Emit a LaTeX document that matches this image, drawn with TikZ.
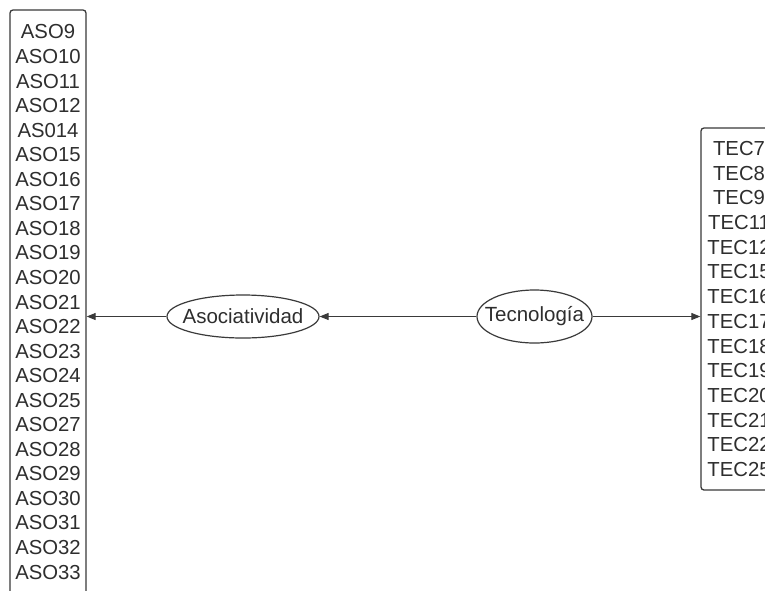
\documentclass[tikz,border=0pt]{standalone}
\usepackage{fontspec}
\setmainfont{Liberation Sans}
\usetikzlibrary{arrows.meta,shapes.geometric}
\definecolor{txt}{HTML}{2E2E2E}
\definecolor{edge}{HTML}{3A3A3A}
\begin{document}
\begin{tikzpicture}[x=1pt,y=-1pt,
  listbox/.style={draw=edge,line width=1.3pt,rounded corners=3pt,text=txt,align=center,
    inner sep=0pt,font=\fontsize{20.3}{24.55}\selectfont,minimum width=76pt},
  oval/.style={ellipse,draw=edge,line width=1.2pt,text=txt,inner xsep=-20pt,inner ysep=-8pt,
    font=\fontsize{20.5}{24}\selectfont},
  conn/.style={draw=edge,line width=0.9pt,-{Triangle[length=9pt,width=7pt]}}]
\clip (0,0) rectangle (765,590);
\fill[white] (0,0) rectangle (765,590);
\node[listbox,minimum height=584pt] (aso) at (48,302) {ASO9\\ASO10\\ASO11\\ASO12\\AS014\\ASO15\\ASO16\\ASO17\\ASO18\\ASO19\\ASO20\\ASO21\\ASO22\\ASO23\\ASO24\\ASO25\\ASO27\\ASO28\\ASO29\\ASO30\\ASO31\\ASO32\\ASO33};
\node[listbox,minimum height=362pt,font=\fontsize{20.3}{24.7}\selectfont] (tec) at (739,309) {TEC7\\TEC8\\TEC9\\TEC11\\TEC12\\TEC15\\TEC16\\TEC17\\TEC18\\TEC19\\TEC20\\TEC21\\TEC22\\TEC25};
\node[oval,minimum width=152pt,minimum height=43pt] (asoc) at (243,316.5) {Asociatividad};
\node[oval,minimum width=115pt,minimum height=53pt] (tecn) at (534.5,316.5) {Tecnología};
\draw[conn] (tecn.west) -- (asoc.east);
\draw[conn] (asoc.west) -- (asoc.west -| aso.east);
\draw[conn] (tecn.east) -- (tecn.east -| tec.west);
\end{tikzpicture}
\end{document}
